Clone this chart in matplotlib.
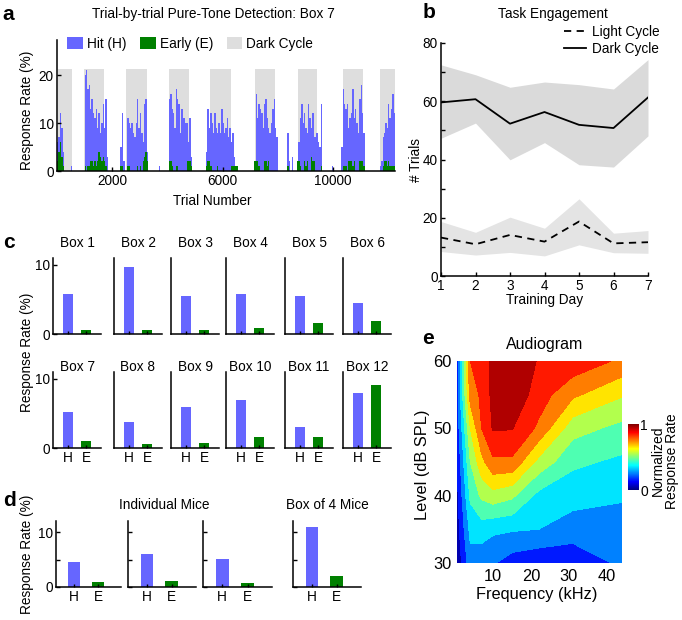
import numpy as np
import matplotlib
matplotlib.use('Agg')
import matplotlib.pyplot as plt
from matplotlib.patches import Patch
from matplotlib.lines import Line2D
from matplotlib.colors import ListedColormap, Normalize
import matplotlib.cm as cm

plt.rcParams['font.family'] = ['Liberation Sans', 'DejaVu Sans']

# ---------------- data ----------------
# panel a: trial-by-trial (50-trial bins)
bin_width = 50
hit_rate = [
    6, 7, 12, 9, 4, 0, 0, 0, 0, 0, 1, 0, 0, 0, 0, 0, 0, 0, 0, 0,
    20, 21, 17, 18, 13, 15, 12, 11, 13, 9, 12, 8, 10, 14, 9, 15, 3, 0, 0, 0,
    0, 0, 0, 0, 0, 0, 5, 12, 2, 0, 0, 11, 10, 9, 10, 8, 7, 10, 15, 9,
    12, 8, 6, 14, 15, 4, 0, 0, 0, 0, 0, 0, 0, 0, 1, 0, 0, 0, 0, 0,
    0, 15, 16, 13, 12, 9, 17, 15, 14, 8, 13, 11, 11, 10, 10, 6, 11, 3, 0, 0,
    0, 0, 0, 0, 0, 0, 0, 0, 4, 13, 9, 12, 10, 8, 12, 9, 8, 10, 8, 13,
    10, 8, 9, 11, 7, 9, 6, 8, 3, 0, 0, 0, 0, 0, 0, 0, 0, 0, 0, 0,
    0, 0, 0, 0, 16, 11, 14, 13, 12, 9, 14, 15, 11, 9, 8, 10, 13, 15, 9, 7,
    0, 0, 0, 0, 0, 0, 0, 8, 2, 0, 3, 0, 0, 0, 0, 6, 11, 14, 10, 12,
    9, 8, 14, 11, 9, 12, 7, 7, 8, 6, 5, 14, 0, 0, 0, 0, 0, 0, 0, 1,
    0, 0, 0, 0, 0, 0, 5, 17, 14, 13, 14, 9, 11, 12, 17, 11, 13, 10, 8, 15,
    18, 12, 8, 0, 0, 0, 0, 0, 0, 0, 0, 0, 0, 0, 1, 2, 7, 8, 10, 9,
    14, 11, 13, 16, 12,
]
early_rate = [
    2, 4, 6, 3, 1, 0, 0, 0, 0, 0, 0, 0, 0, 0, 0, 0, 0, 0, 0, 0,
    1, 0, 1, 1, 2, 2, 1, 2, 1, 2, 4, 3, 2, 3, 2, 1, 0, 0, 0, 0,
    0, 0, 0, 0, 0, 0, 1, 1, 0, 0, 0, 1, 1, 0, 0, 0, 0, 0, 1, 0,
    1, 0, 2, 3, 4, 2, 0, 0, 0, 0, 0, 0, 0, 0, 0, 0, 0, 0, 0, 0,
    0, 2, 2, 1, 0, 0, 1, 1, 0, 0, 0, 0, 0, 0, 2, 2, 2, 1, 0, 0,
    0, 0, 0, 0, 0, 0, 0, 0, 1, 2, 2, 1, 0, 0, 0, 0, 1, 0, 0, 0,
    0, 0, 0, 0, 0, 0, 1, 1, 1, 1, 1, 0, 0, 0, 0, 0, 0, 0, 0, 0,
    0, 0, 0, 2, 2, 2, 1, 0, 0, 0, 2, 2, 1, 2, 0, 0, 0, 0, 0, 0,
    0, 0, 0, 0, 0, 0, 0, 1, 0, 0, 0, 0, 0, 0, 2, 2, 1, 0, 0, 2,
    1, 2, 0, 0, 3, 2, 2, 0, 0, 0, 0, 1, 0, 0, 0, 0, 0, 0, 0, 0,
    0, 0, 0, 0, 0, 0, 0, 1, 1, 1, 0, 2, 2, 2, 1, 2, 0, 0, 0, 2,
    2, 2, 1, 0, 0, 0, 0, 0, 0, 0, 0, 0, 0, 0, 0, 0, 1, 2, 2, 1,
    2, 1, 1, 1, 1,
]
dark_start = [50, 980, 2500, 4050, 5550, 7180, 8720, 10355, 11715]
dark_end = [550, 1710, 3250, 4790, 6290, 7910, 9430, 11085, 12250]
dark_height = 21.2

# panel b
days = [1, 2, 3, 4, 5, 6, 7]
dark_mean = [59.6, 60.7, 52.3, 56.3, 51.9, 50.8, 61.3]
dark_upper = [72.5, 69.1, 64.8, 66.6, 65.7, 64.2, 74.3]
dark_lower = [47.3, 52.5, 39.9, 45.8, 38.2, 37.4, 48.1]
light_mean = [13.2, 10.9, 14.1, 11.8, 18.7, 11.2, 11.6]
light_upper = [18.7, 15.0, 20.2, 16.4, 26.5, 14.7, 15.6]
light_lower = [8.4, 7.2, 8.1, 6.9, 10.7, 8.0, 7.8]

# panel c
box_names = ['Box 1', 'Box 2', 'Box 3', 'Box 4', 'Box 5', 'Box 6',
             'Box 7', 'Box 8', 'Box 9', 'Box 10', 'Box 11', 'Box 12']
box_hit = [5.8, 9.7, 5.55, 5.8, 5.55, 4.45, 5.15, 3.7, 5.9, 6.9, 3.1, 7.95]
box_early = [0.55, 0.6, 0.6, 0.8, 1.65, 1.85, 1.05, 0.55, 0.75, 1.6, 1.65, 9.1]
bar_labels = ['H', 'E']

# panel d
mice_hit = [4.55, 6.0, 5.15, 10.85]
mice_early = [0.98, 1.05, 0.67, 2.07]

# panel e
freqs = [0.5, 4, 7, 10, 15, 22, 31, 44]
levels_db = [30, 35, 40, 45, 50, 55, 60]
resp = [
    [0.02, 0.26, 0.23, 0.21, 0.15, 0.12, 0.13, 0.22],
    [0.05, 0.33, 0.35, 0.32, 0.31, 0.30, 0.25, 0.26],
    [0.07, 0.42, 0.52, 0.56, 0.52, 0.37, 0.34, 0.31],
    [0.10, 0.50, 0.67, 0.78, 0.78, 0.57, 0.42, 0.38],
    [0.13, 0.60, 0.80, 0.91, 0.905, 0.78, 0.54, 0.47],
    [0.15, 0.74, 0.82, 0.93, 0.98, 0.85, 0.72, 0.61],
    [0.15, 0.80, 0.83, 0.93, 1.00, 0.89, 0.87, 0.78],
]

# ---------------- style ----------------
BLUE = '#6666ff'
GREEN = '#008000'
GREY = '#dedede'
FS = 9.8
W, H = 682, 620
fig = plt.figure(figsize=(W / 100, H / 100), dpi=100)


def rect(l, t, r, b):
    return [l / W, 1 - b / H, (r - l) / W, (b - t) / H]


def ftext(x, y, s, **kw):
    kw.setdefault('fontsize', FS)
    kw.setdefault('ha', 'center')
    kw.setdefault('va', 'center')
    fig.text(x / W, 1 - y / H, s, **kw)


def style(ax, fs=FS):
    for sp in ['top', 'right']:
        ax.spines[sp].set_visible(False)
    for sp in ['left', 'bottom']:
        ax.spines[sp].set_linewidth(1.1)
    ax.tick_params(direction='in', length=3, width=1, labelsize=fs, pad=2.5)
    ax.tick_params(which='minor', direction='in', length=3, width=1)


# ---------------- panel a ----------------
axa = fig.add_axes(rect(57, 40, 395, 171))
style(axa)
for s, e in zip(dark_start, dark_end):
    axa.bar(s, dark_height, width=e - s, align='edge', color=GREY, lw=0, zorder=0)
bins = np.arange(len(hit_rate)) * bin_width
axa.bar(bins, hit_rate, width=bin_width, align='edge', color=BLUE, lw=0, zorder=1)
axa.bar(bins, early_rate, width=bin_width, align='edge', color=GREEN, lw=0, zorder=2)
axa.set_xlim(0, 12250)
axa.set_ylim(0, 27.3)
axa.set_xticks([2000, 6000, 10000])
axa.set_yticks([0, 10, 20])
handles = [Patch(facecolor=BLUE), Patch(facecolor=GREEN), Patch(facecolor=GREY)]
axa.legend(handles, ['Hit (H)', 'Early (E)', 'Dark Cycle'], ncol=3, frameon=False,
           loc='center left', bbox_to_anchor=(67 / W, 1 - 44 / H),
           bbox_transform=fig.transFigure, handlelength=1.15, handleheight=1.0,
           handletextpad=0.3, columnspacing=1.0, borderpad=0, borderaxespad=0,
           fontsize=FS)
ftext(8, 15, 'a', fontsize=15, fontweight='bold')
ftext(213, 14, 'Trial-by-trial Pure-Tone Detection: Box 7')
ftext(27, 110, 'Response Rate (%)', rotation=90)
ftext(212, 201, 'Trial Number')

# ---------------- panel b ----------------
axb = fig.add_axes(rect(441, 43, 648, 276))
style(axb)
axb.fill_between(days, dark_lower, dark_upper, color='#dadada', lw=0)
axb.fill_between(days, light_lower, light_upper, color='#e4e4e4', lw=0)
axb.plot(days, light_mean, color='black', lw=1.3, ls=(0, (4, 3)), label='Light Cycle')
axb.plot(days, dark_mean, color='black', lw=1.3, label='Dark Cycle')
axb.set_xlim(1, 7)
axb.set_ylim(0, 80)
axb.set_xticks(days)
axb.set_yticks([0, 20, 40, 60, 80])
axb.set_yticks([10, 30, 50, 70], minor=True)
axb.legend(loc='upper right', bbox_to_anchor=(660 / W, 1 - 25 / H),
           bbox_transform=fig.transFigure, frameon=False, fontsize=FS,
           handlelength=1.55, handletextpad=0.5, labelspacing=0.2,
           borderpad=0, borderaxespad=0)
ftext(429, 13, 'b', fontsize=15, fontweight='bold')
ftext(553, 14, 'Task Engagement')
ftext(416, 160, '# Trials', rotation=90)
ftext(545, 300, 'Training Day')

# ---------------- panel c ----------------
c_lefts = [53, 114, 171, 226, 285, 343]
for i in range(12):
    row, col = divmod(i, 6)
    top = 258 if row == 0 else 372
    bot = 334 if row == 0 else 448
    l = c_lefts[col]
    ax = fig.add_axes(rect(l, top, l + 48, bot))
    style(ax)
    ax.bar([1], [box_hit[i]], width=0.55, color=BLUE, lw=0)
    ax.bar([2], [box_early[i]], width=0.55, color=GREEN, lw=0)
    ax.set_xlim(0.17, 2.83)
    ax.set_ylim(0, 11)
    ax.set_xticks([1, 2])
    ax.tick_params(axis='x', length=2)
    if row == 1:
        ax.set_xticklabels(bar_labels)
    else:
        ax.set_xticklabels([])
    if col == 0:
        ax.set_yticks([0, 10])
    else:
        ax.set_yticks([])
    ftext(l + 24, 243 if row == 0 else 367, box_names[i])
ftext(9, 243, 'c', fontsize=15, fontweight='bold')
ftext(27, 352, 'Response Rate (%)', rotation=90)

# ---------------- panel d ----------------
d_rects = [(56, 121), (128, 196), (203, 272), (293, 361)]
for i, (l, r) in enumerate(d_rects):
    ax = fig.add_axes(rect(l, 521, r, 587))
    style(ax)
    ax.bar([1], [mice_hit[i]], width=0.52, color=BLUE, lw=0)
    ax.bar([2], [mice_early[i]], width=0.52, color=GREEN, lw=0)
    ax.set_xlim(0.235, 2.97)
    ax.set_ylim(0, 12)
    ax.set_xticks([1, 2])
    ax.set_xticklabels(bar_labels)
    ax.tick_params(axis='x', length=2)
    ax.set_yticks([0, 5, 10])
    if i == 0:
        ax.set_yticklabels(['0', '', '10'])
    else:
        ax.set_yticklabels([])
ftext(9, 500, 'd', fontsize=15, fontweight='bold')
ftext(164, 505, 'Individual Mice')
ftext(327, 505, 'Box of 4 Mice')
ftext(27, 554, 'Response Rate (%)', rotation=90)

# ---------------- panel e ----------------
x = np.linspace(0, 1, 256)
jet_m = np.c_[np.clip(1.5 - np.abs(4 * x - 3), 0, 1),
              np.clip(1.5 - np.abs(4 * x - 2), 0, 1),
              np.clip(1.5 - np.abs(4 * x - 1), 0, 1)]
cmap = ListedColormap(jet_m)
norm = Normalize(0, 1)
axe = fig.add_axes(rect(457, 361, 622, 563))
axe.contourf(freqs, levels_db, np.array(resp), levels=np.linspace(0, 1, 11),
             cmap=cmap, norm=norm)
axe.set_xlim(0.5, 44)
axe.set_ylim(30, 60)
axe.set_xticks([10, 20, 30, 40])
axe.set_yticks([30, 40, 50, 60])
for sp in axe.spines.values():
    sp.set_visible(False)
axe.tick_params(length=0, labelsize=11.8, pad=4)
cax = fig.add_axes(rect(628, 424, 639, 490))
cb = fig.colorbar(cm.ScalarMappable(norm=norm, cmap=cmap), cax=cax)
cb.set_ticks([0, 1])
cb.set_ticklabels(['0', '1'])
cb.outline.set_visible(False)
cax.tick_params(length=0, labelsize=10, pad=1)
ftext(428, 338, 'e', fontsize=15, fontweight='bold')
ftext(545, 345, 'Audiogram', fontsize=11.5)
ftext(423, 465, 'Level (dB SPL)', rotation=90, fontsize=11.8)
ftext(537, 595, 'Frequency (kHz)', fontsize=11.8)
ftext(665, 461, 'Normalized\nResponse Rate', rotation=90, fontsize=10,
      linespacing=1.0)

fig.savefig('out.png', dpi=100)
